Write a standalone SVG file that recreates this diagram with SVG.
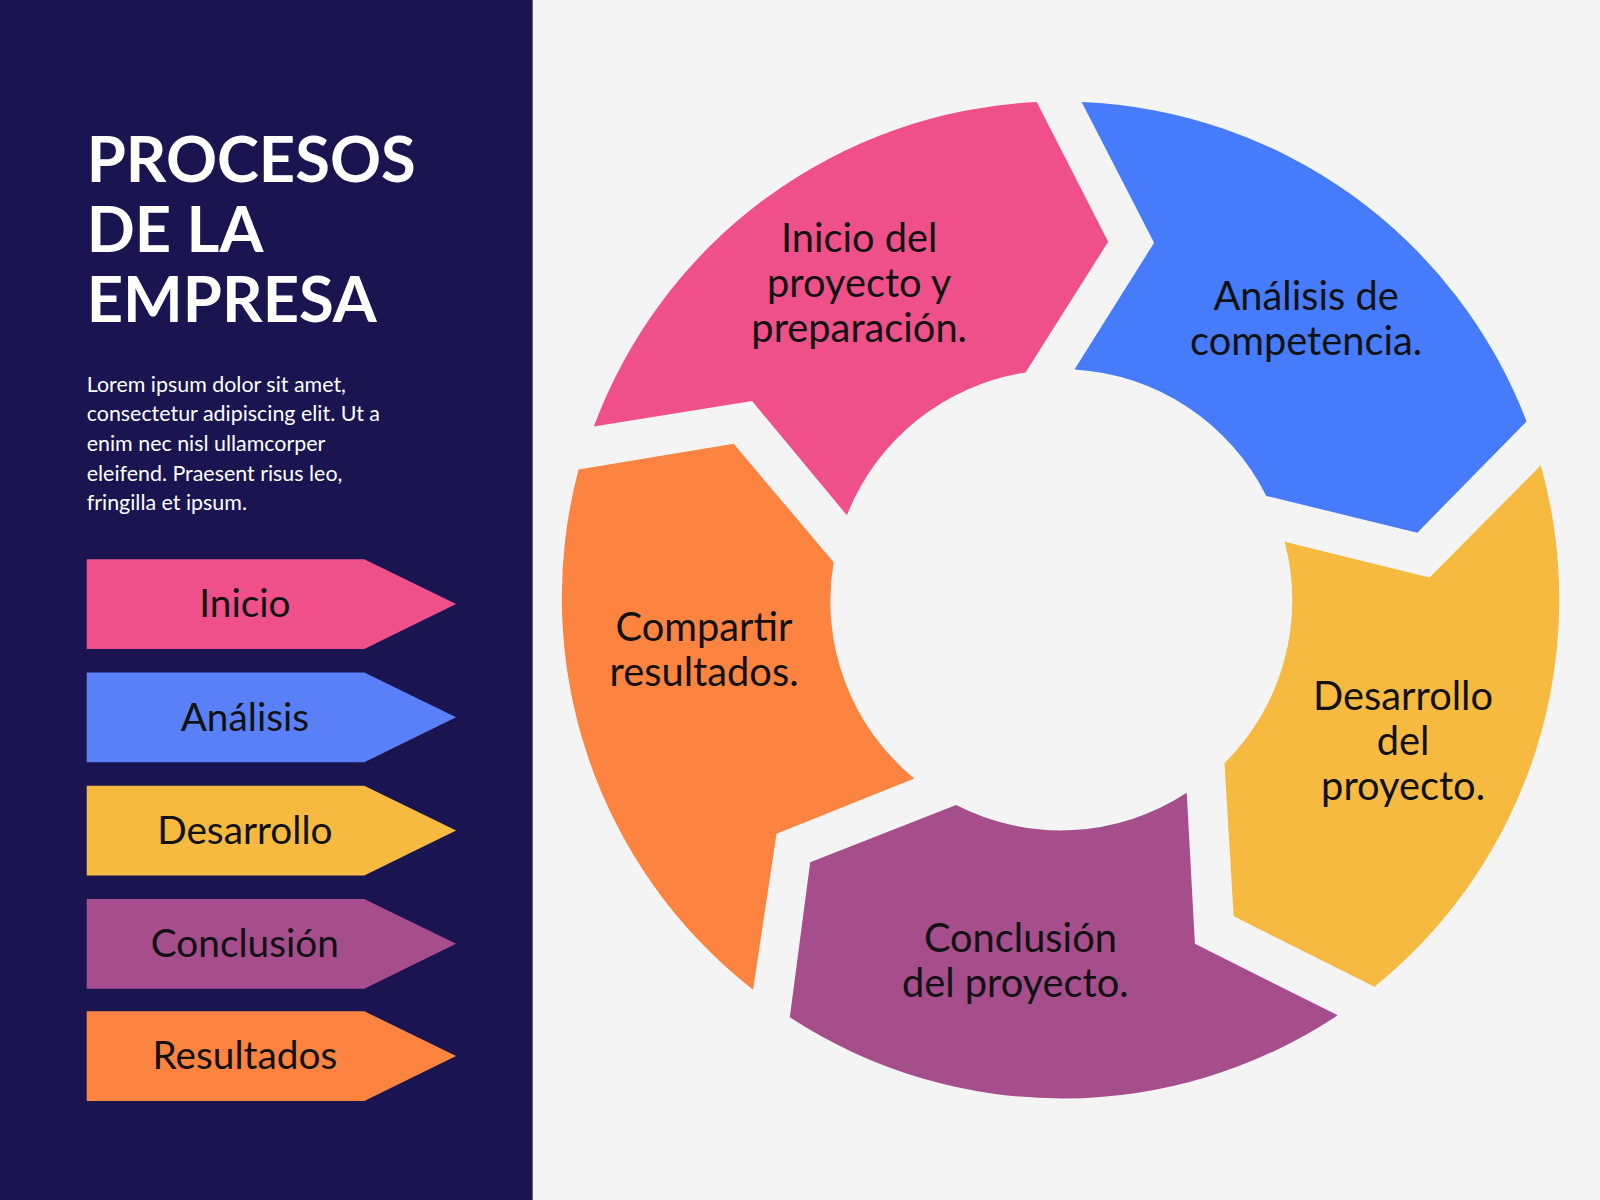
<svg xmlns="http://www.w3.org/2000/svg" width="1600" height="1200" viewBox="0 0 1600 1200">
<style>
.t{font-family:Lato,"Open Sans",sans-serif;fill:#111;font-size:39px;text-anchor:middle}
.lg{font-family:Lato,"Open Sans",sans-serif;fill:#111;font-size:38px;text-anchor:middle}
</style>
<g transform="scale(1.0204)">
<rect x="0" y="0" width="1568" height="1176" fill="#F4F4F4"/>
<rect x="0" y="0" width="522" height="1176" fill="#1A1550"/>
<g id="title" font-family="Lato,'Open Sans',sans-serif" font-weight="bold" font-size="62" fill="#fff">
<text x="85" y="178">PROCESOS</text><text x="85" y="247">DE LA</text><text x="85" y="316">EMPRESA</text>
</g>
<g id="desc" font-family="Lato,'Open Sans',sans-serif" font-size="21" fill="#fff">
<text x="85" y="384">Lorem ipsum dolor sit amet,</text>
<text x="85" y="413">consectetur adipiscing elit. Ut a</text>
<text x="85" y="442">enim nec nisl ullamcorper</text>
<text x="85" y="471">eleifend. Praesent risus leo,</text>
<text x="85" y="500">fringilla et ipsum.</text>
</g>
<g id="legend-inicio"><polygon points="85,548 357,548 447,592 357,636 85,636" fill="#F0508A"/><text class="lg" x="240" y="605">Inicio</text></g>
<g id="legend-analisis"><polygon points="85,659 357,659 447,703 357,747 85,747" fill="#5A80F8"/><text class="lg" x="240" y="716">Análisis</text></g>
<g id="legend-desarrollo"><polygon points="85,770 357,770 447,814 357,858 85,858" fill="#F6BA40"/><text class="lg" x="240" y="827">Desarrollo</text></g>
<g id="legend-conclusion"><polygon points="85,881 357,881 447,925 357,969 85,969" fill="#A64D8C"/><text class="lg" x="240" y="938">Conclusión</text></g>
<g id="legend-resultados"><polygon points="85,991 357,991 447,1035 357,1079 85,1079" fill="#FD8340"/><text class="lg" x="240" y="1048">Resultados</text></g>
<g id="seg-inicio">
<path d="M582,418 A488,488 0 0 1 1016,100 L1086,237 L1005,365 A225,225 0 0 0 830,505 L737,393 Z" fill="#F0508A"/>
<text class="t" x="842" y="247">Inicio del</text><text class="t" x="842" y="291">proyecto y</text><text class="t" x="842" y="335">preparación.</text>
</g>
<g id="seg-analisis">
<path d="M1060,100 A488,488 0 0 1 1496,413 L1389,522 L1241,486 A225,225 0 0 0 1053,362 L1131,238 Z" fill="#467CFB"/>
<text class="t" x="1280" y="304">Análisis de</text><text class="t" x="1280" y="348">competencia.</text>
</g>
<g id="seg-desarrollo">
<path d="M1510,456 A488,488 0 0 1 1347,967 L1209,898 L1200,748 A225,225 0 0 0 1259,531 L1401,566 Z" fill="#F6BA40"/>
<text class="t" x="1375" y="696">Desarrollo</text><text class="t" x="1375" y="740">del</text><text class="t" x="1375" y="784">proyecto.</text>
</g>
<g id="seg-conclusion">
<path d="M1311,995 A488,488 0 0 1 774,997 L794,845 L937,789 A225,225 0 0 0 1163,777 L1171,925 Z" fill="#A64D8C"/>
<text class="t" x="1000" y="933">Conclusión</text><text class="t" x="995" y="977">del proyecto.</text>
</g>
<g id="seg-resultados">
<path d="M738,970 A488,488 0 0 1 567,460 L719,435 L817,551 A225,225 0 0 0 896,763 L761,817 Z" fill="#FD8340"/>
<text class="t" x="690" y="628">Compartir</text><text class="t" x="690" y="672">resultados.</text>
</g>
<g id="connectors"/>
</g>
</svg>
